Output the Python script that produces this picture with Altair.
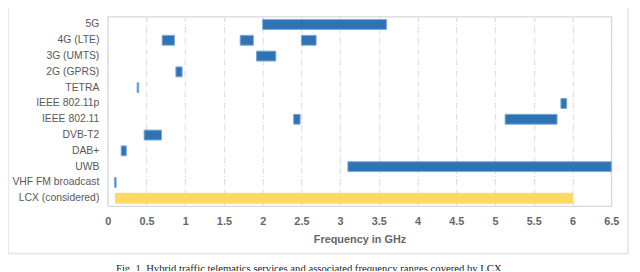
import altair as alt
import pandas as pd

services = ["5G", "4G (LTE)", "3G (UMTS)", "2G (GPRS)", "TETRA", "IEEE 802.11p",
            "IEEE 802.11", "DVB-T2", "DAB+", "UWB", "VHF FM broadcast", "LCX (considered)"]

band_service = ["5G", "4G (LTE)", "4G (LTE)", "4G (LTE)", "3G (UMTS)", "2G (GPRS)", "TETRA",
                "IEEE 802.11p", "IEEE 802.11", "IEEE 802.11", "DVB-T2", "DAB+", "UWB",
                "VHF FM broadcast", "LCX (considered)"]
band_start = [2.0, 0.703, 1.71, 2.5, 1.92, 0.88, 0.38, 5.85, 2.4, 5.13, 0.47, 0.174, 3.1, 0.0875, 0.1]
band_end = [3.6, 0.862, 1.88, 2.69, 2.17, 0.96, 0.40, 5.925, 2.4835, 5.8, 0.694, 0.240, 6.5, 0.108, 6.0]
band_kind = ["service"] * 14 + ["lcx"]

x_ticks = [0, 0.5, 1, 1.5, 2, 2.5, 3, 3.5, 4, 4.5, 5, 5.5, 6, 6.5]
caption = "Fig. 1. Hybrid traffic telematics services and associated frequency ranges covered by LCX."

df = pd.DataFrame({"service": band_service, "start": band_start, "end": band_end, "kind": band_kind})

FONT = "Liberation Sans"

bars = alt.Chart(df).mark_bar(strokeWidth=1, cornerRadius=0).encode(
    x=alt.X("start:Q", scale=alt.Scale(domain=[0, 6.5], nice=False),
            axis=alt.Axis(values=x_ticks, format="~g", title="Frequency in GHz", grid=True,
                          gridColor="#d9d9d9", gridDash=[6, 2, 1, 2], gridWidth=1,
                          domain=False, ticks=False, labelPadding=10,
                          labelFont=FONT, labelFontSize=11, labelFontWeight="bold",
                          labelColor="#666666", titleFont=FONT, titleFontSize=11,
                          titleFontWeight="bold", titleColor="#666666", titlePadding=7,
                          labelFlush=False)),
    x2="end:Q",
    y=alt.Y("service:N", sort=services,
            scale=alt.Scale(paddingInner=0.375, paddingOuter=0.1875),
            axis=alt.Axis(title=None, domain=False, ticks=False, grid=False,
                          labelPadding=9, labelFont=FONT, labelFontSize=10.5,
                          labelColor="#595959")),
    color=alt.Color("kind:N", scale=alt.Scale(domain=["service", "lcx"],
                                             range=["#2E74B5", "#FFD966"]), legend=None),
    stroke=alt.Stroke("kind:N", scale=alt.Scale(domain=["service", "lcx"],
                                               range=["#7DA9D8", "#FFD966"]), legend=None),
)

cap = alt.Chart(pd.DataFrame({"t": [caption]})).mark_text(
    font="Liberation Serif", fontSize=10.8, color="#222222", align="center", baseline="middle"
).encode(text="t:N", x=alt.value(205), y=alt.value(256))

frame = alt.Chart(pd.DataFrame({"a": [0]})).mark_rect(
    fill=None, stroke="#e3e3e3", strokeWidth=1.5
).encode(x=alt.value(-101), x2=alt.value(527), y=alt.value(-13), y2=alt.value(240))

chart = alt.layer(frame, bars, cap).properties(
    width=510, height=192,
    autosize=alt.AutoSizeParams(type="none"),
    padding={"left": 101, "top": 7, "right": 21, "bottom": 64},
).configure_view(stroke="#d9d9d9", strokeWidth=1.2)

chart.save("out.html", embed_options={"renderer": "svg", "actions": False})
